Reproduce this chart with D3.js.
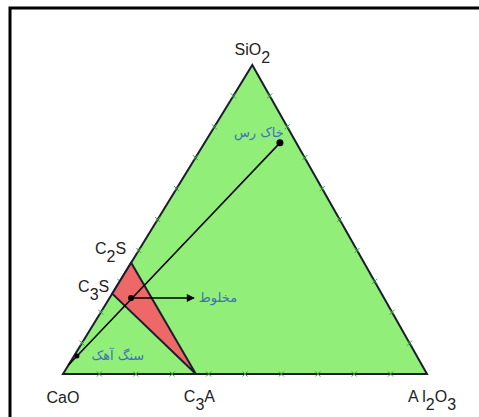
<!DOCTYPE html>
<html>
<head>
<meta charset="utf-8">
<script src="https://cdn.jsdelivr.net/npm/d3@7"></script>
<style>
  body { margin: 0; background: #fff; }
  svg { display: block; }
</style>
</head>
<body>
<div id="chart"></div>
<script>
// ternary data: fractions of SiO2 and Al2O3 (CaO is the rest)
const phaseNames = ["C3S", "C2S", "C3A"];
const phaseSiO2 = [0.26, 0.36, 0];
const phaseAl2O3 = [0, 0, 0.365];

const sampleNames = ["سنگ آهک", "مخلوط", "خاک رس"];
const sampleSiO2 = [0.058, 0.246, 0.748];
const sampleAl2O3 = [0.008, 0.059, 0.207];

// mixing line starts on the CaO-SiO2 edge
const lineStartSiO2 = 0.029;
const lineStartAl2O3 = 0;

const tickFractions = [0.1, 0.2, 0.3, 0.4, 0.5, 0.6, 0.7, 0.8, 0.9];

const svgWidth = 479;
const svgHeight = 417;

const svg = d3.select("#chart")
  .append("svg")
  .attr("width", svgWidth)
  .attr("height", svgHeight);

// frame
svg.append("rect")
  .attr("x", 10)
  .attr("y", 8)
  .attr("width", 520)
  .attr("height", 520)
  .style("fill", "none")
  .style("stroke", "#000")
  .style("stroke-width", 3);

const x = d3.scaleLinear().domain([0, 1]).range([63, 427]);
const y = d3.scaleLinear().domain([0, 1]).range([374, 65]);
const skew = 0.52;

function proj(si, al) {
  return [x(al + skew * si), y(si)];
}

const cao = proj(0, 0), al2o3 = proj(0, 1), sio2 = proj(1, 0);

// main triangle
svg.append("path")
  .attr("d", d3.line()([cao, al2o3, sio2]) + "Z")
  .style("fill", "#91ee79")
  .style("stroke", "#1d1d30")
  .style("stroke-width", 2)
  .style("stroke-linejoin", "miter");

// small x ticks on every edge
const tickPts = [];
tickFractions.forEach((t) => {
  tickPts.push(proj(0, t));        // bottom
  tickPts.push(proj(t, 0));        // left
  tickPts.push(proj(t, 1 - t));    // right
});
svg.selectAll(".tick")
  .data(tickPts)
  .join("path")
  .attr("class", "tick")
  .attr("d", (d) => `M${d[0] - 2.5},${d[1] - 2.5}L${d[0] + 2.5},${d[1] + 2.5}M${d[0] - 2.5},${d[1] + 2.5}L${d[0] + 2.5},${d[1] - 2.5}`)
  .style("stroke", "#3f9a3f")
  .style("stroke-width", 1);

// phase triangle C3S - C2S - C3A
const phasePts = phaseNames.map((n, i) => proj(phaseSiO2[i], phaseAl2O3[i]));
svg.append("path")
  .attr("d", d3.line()(phasePts) + "Z")
  .style("fill", "#ee6868")
  .style("stroke", "#1d1d30")
  .style("stroke-width", 2)
  .style("stroke-linejoin", "miter");

// mixing line
const lineStart = proj(lineStartSiO2, lineStartAl2O3);
const clay = proj(sampleSiO2[2], sampleAl2O3[2]);
svg.append("path")
  .attr("d", d3.line()([lineStart, clay]))
  .style("stroke", "#000")
  .style("stroke-width", 1.5)
  .style("fill", "none");

const samplePts = sampleNames.map((n, i) => proj(sampleSiO2[i], sampleAl2O3[i]));
svg.selectAll(".sample")
  .data(samplePts)
  .join("circle")
  .attr("class", "sample")
  .attr("cx", (d) => d[0])
  .attr("cy", (d) => d[1])
  .attr("r", (d, i) => [2.5, 3, 3.5][i])
  .style("fill", "#000");

// arrow from mixture point
svg.append("defs").append("marker")
  .attr("id", "arrow")
  .attr("viewBox", "0 0 10 10")
  .attr("refX", 9)
  .attr("refY", 5)
  .attr("markerWidth", 11)
  .attr("markerHeight", 8)
  .attr("markerUnits", "userSpaceOnUse")
  .attr("orient", "auto")
  .append("path")
  .attr("d", "M0,0L10,5L0,10Z")
  .style("fill", "#000");

const mix = samplePts[1];
svg.append("line")
  .attr("x1", mix[0])
  .attr("y1", mix[1])
  .attr("x2", mix[0] + 63)
  .attr("y2", mix[1])
  .style("stroke", "#000")
  .style("stroke-width", 1.5)
  .attr("marker-end", "url(#arrow)");

// chemistry labels with subscripts
const labelFont = "'Liberation Sans', Arial, sans-serif";
function chemLabel(pt, dx, dy, anchor, parts) {
  const t = svg.append("text")
    .attr("x", pt[0] + dx)
    .attr("y", pt[1] + dy)
    .attr("text-anchor", anchor)
    .style("font-family", labelFont)
    .style("font-size", "16px")
    .style("fill", "#222");
  let shift = 0;
  parts.forEach(([s, sub]) => {
    const target = sub ? 8 : 0;
    t.append("tspan")
      .attr("dy", target - shift)
      .text(s);
    shift = target;
  });
}

chemLabel(sio2, 0, -10, "middle", [["SiO", false], ["2", true]]);
chemLabel(cao, 0, 29, "middle", [["CaO", false]]);
chemLabel(al2o3, -19, 28, "start", [["A l", false], ["2", true], ["O", false], ["3", true]]);
chemLabel(phasePts[2], -12, 28, "start", [["C", false], ["3", true], ["A", false]]);
chemLabel(phasePts[1], -5, -9, "end", [["C", false], ["2", true], ["S", false]]);
chemLabel(phasePts[0], -3, -2, "end", [["C", false], ["3", true], ["S", false]]);

// persian labels
const faOffsets = [[41, 4], [87, 4], [-21, -6]];
svg.selectAll(".fa")
  .data(samplePts)
  .join("text")
  .attr("class", "fa")
  .attr("x", (d, i) => d[0] + faOffsets[i][0])
  .attr("y", (d, i) => d[1] + faOffsets[i][1])
  .attr("text-anchor", "middle")
  .style("font-family", "'DejaVu Sans', sans-serif")
  .style("font-size", "13px")
  .style("fill", "#3f6fb8")
  .text((d, i) => sampleNames[i]);
</script>
</body>
</html>
